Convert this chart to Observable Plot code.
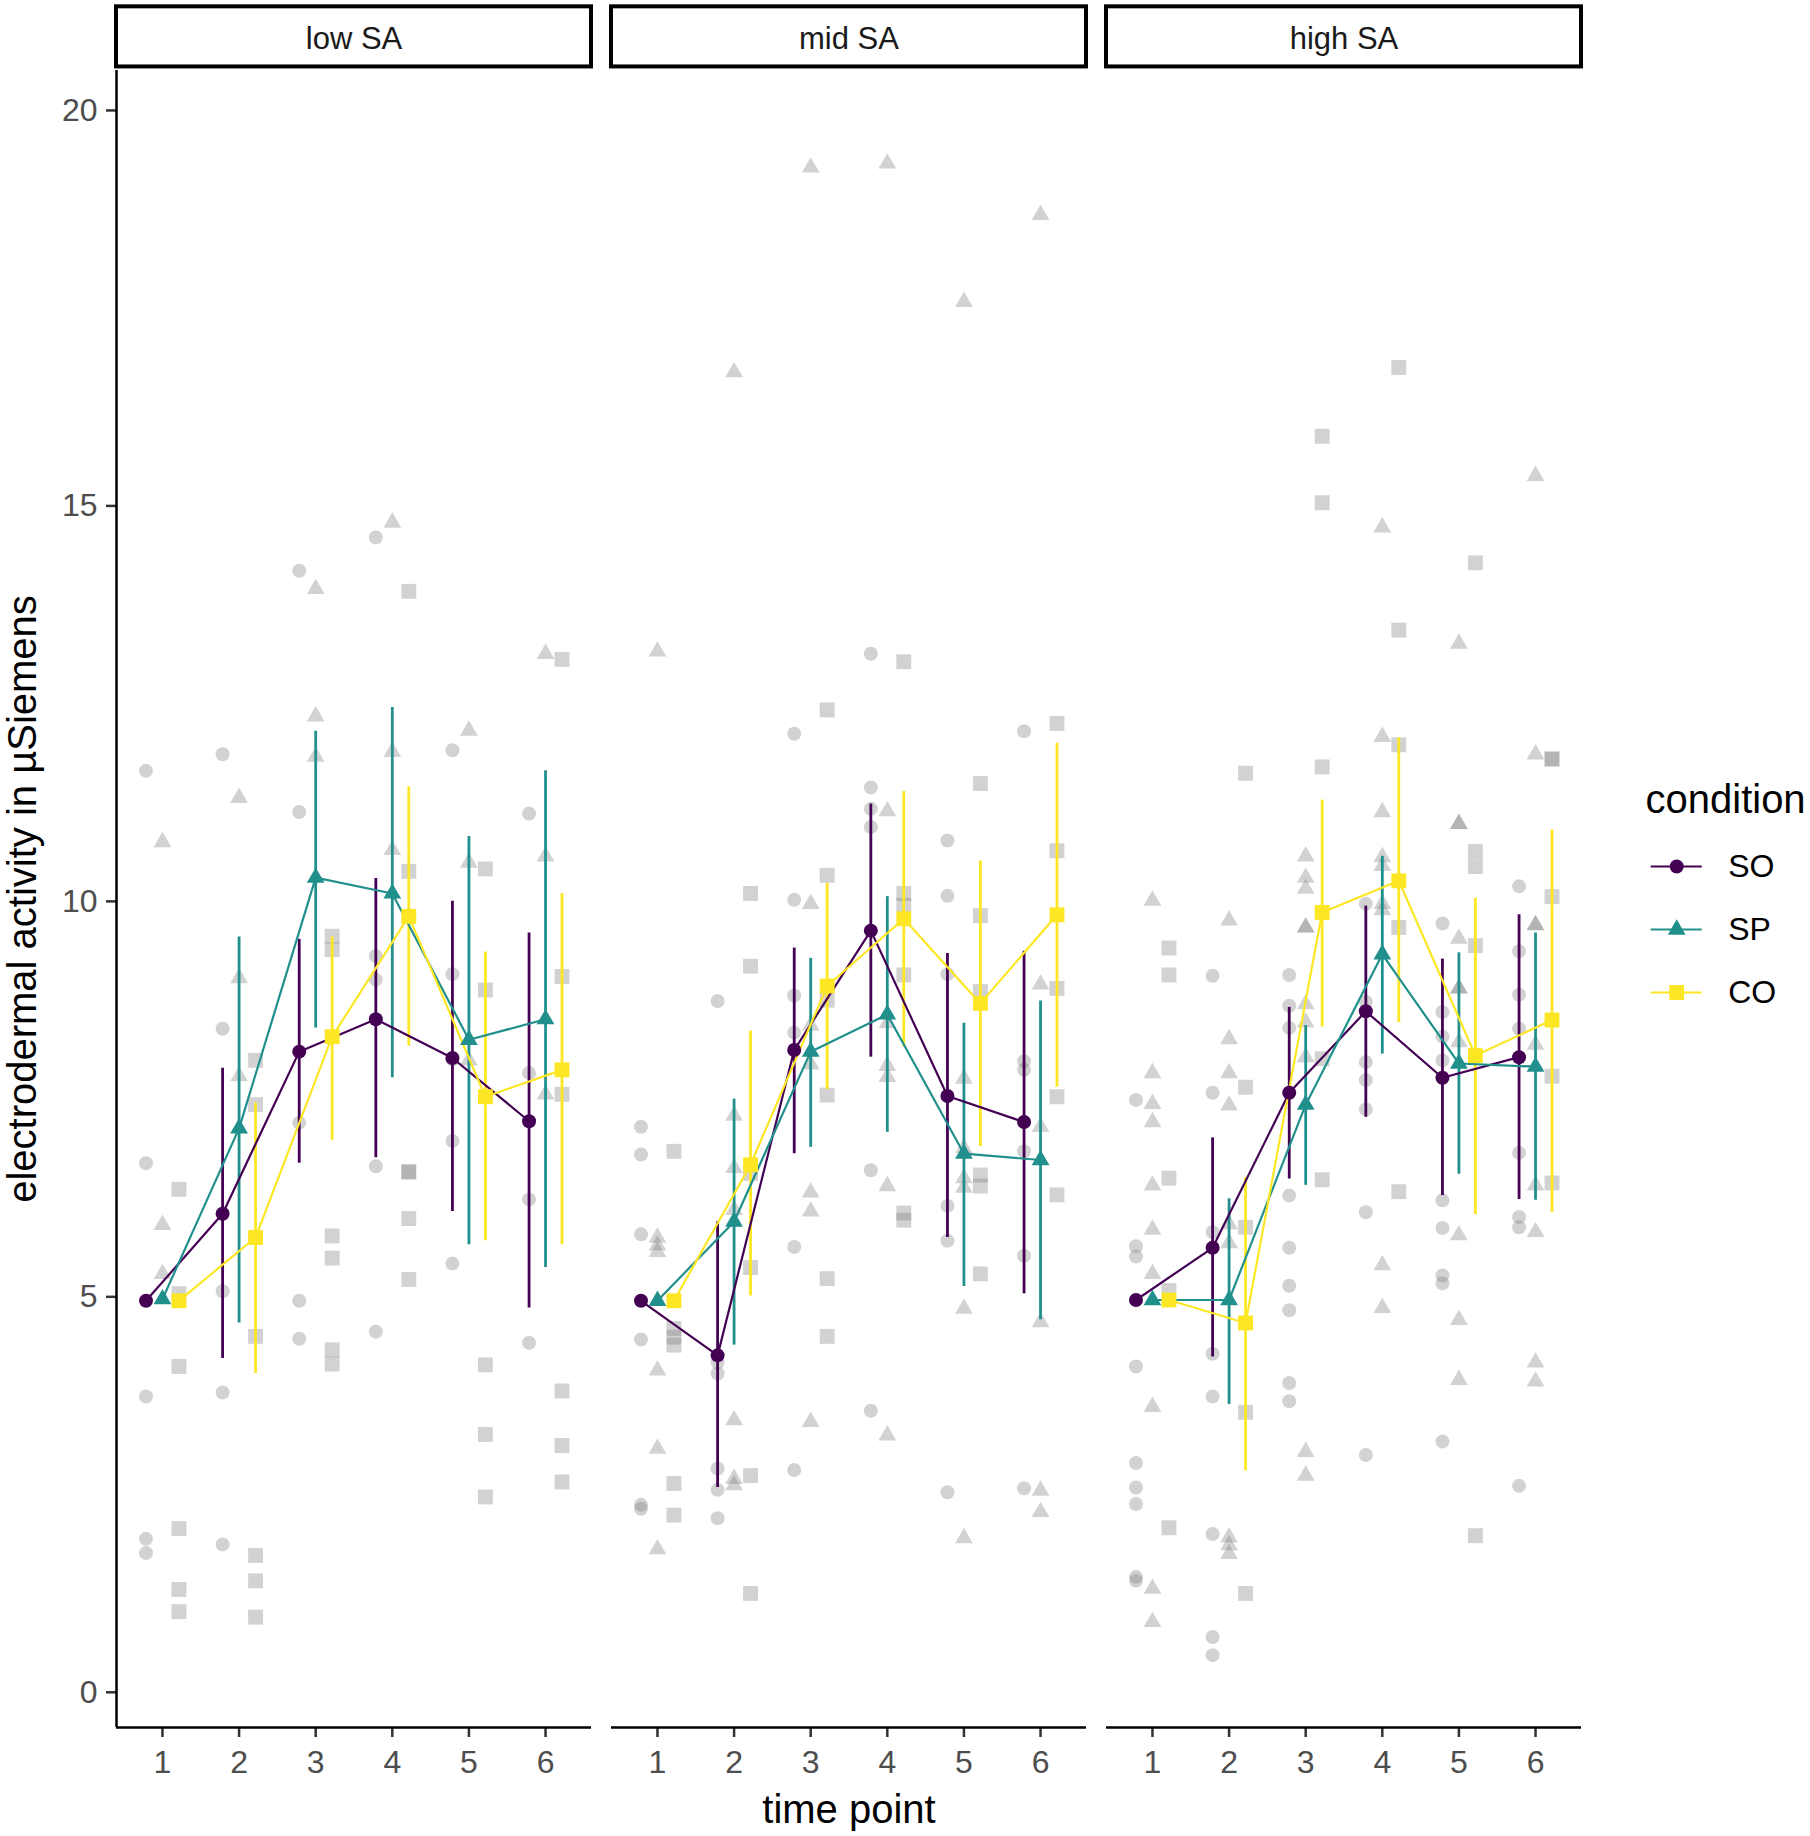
<!DOCTYPE html>
<html><head><meta charset="utf-8">
<script src="https://cdn.jsdelivr.net/npm/d3@7"></script>
<script src="https://cdn.jsdelivr.net/npm/@observablehq/plot@0.6"></script>
<style>
body{margin:0;background:#fff;}
#wrap{position:relative;width:1810px;height:1836px;font-family:"Liberation Sans",Arial,sans-serif;}
#chart{position:absolute;left:0;top:0;}
#legend{position:absolute;left:1640px;top:760px;}
</style></head><body><div id="wrap"><div id="chart"></div><div id="legend"></div></div>
<script>
const panels = ["low SA", "mid SA", "high SA"];
const conditions = ["SO", "SP", "CO"];
const timePoints = [1, 2, 3, 4, 5, 6];
const yTicks = [0, 5, 10, 15, 20];
const condColors = ["#440154", "#21908C", "#FDE725"];
const condSymbols = ["circle", "triangle", "square"];

// summary values per panel (low, mid, high), per time point 1..6
const meanSO = [[4.95, 6.05, 8.10, 8.51, 8.02, 7.22], [4.95, 4.26, 8.12, 9.63, 7.54, 7.21], [4.96, 5.62, 7.58, 8.61, 7.77, 8.03]];
const loSO   = [[null, 4.22, 6.69, 6.76, 6.08, 4.86], [null, 2.59, 6.81, 8.03, 5.75, 5.04], [null, 4.24, 6.49, 7.27, 6.28, 6.23]];
const hiSO   = [[null, 7.89, 9.52, 10.29, 10.00, 9.60], [null, 5.95, 9.41, 11.23, 9.34, 9.37], [null, 7.01, 8.66, 9.94, 9.27, 9.83]];
const meanSP = [[4.97, 7.13, 10.30, 10.10, 8.25, 8.51], [4.95, 5.95, 8.10, 8.57, 6.81, 6.73], [4.96, 4.96, 7.43, 9.33, 7.95, 7.91]];
const loSP   = [[null, 4.67, 8.40, 7.77, 5.66, 5.37], [null, 4.39, 6.89, 7.08, 5.13, 4.71], [null, 3.64, 6.41, 8.07, 6.55, 6.22]];
const hiSP   = [[null, 9.55, 12.15, 12.45, 10.82, 11.65], [null, 7.50, 9.28, 10.06, 8.46, 8.74], [null, 6.24, 8.43, 10.57, 9.35, 9.60]];
const meanCO = [[4.95, 5.75, 8.29, 9.81, 7.53, 7.87], [4.95, 6.67, 8.93, 9.78, 8.71, 9.83], [4.96, 4.67, 9.86, 10.26, 8.05, 8.50]];
const loCO   = [[null, 4.03, 6.98, 8.17, 5.71, 5.66], [null, 5.01, 7.62, 8.16, 6.90, 7.65], [null, 2.80, 8.41, 8.47, 6.04, 6.07]];
const hiCO   = [[null, 7.45, 9.55, 11.45, 9.36, 10.10], [null, 8.36, 10.23, 11.39, 10.51, 12.00], [null, 6.51, 11.28, 12.07, 10.04, 10.90]];

// individual observations (grey), per time point 1..6
const lowSO = [[11.65, 6.69, 3.74, 1.94, 1.76], [11.86, 8.39, 5.07, 3.79, 1.87], [14.18, 11.13, 7.2, 4.95, 4.47], [14.6, 9.31, 9.01, 6.65, 4.56], [11.91, 9.08, 8.0, 6.97, 5.42], [11.11, 7.83, 6.23, 4.42]];
const lowSP = [[10.75, 5.91, 5.29], [11.31, 9.03, 7.79], [13.95, 12.34, 11.83], [14.79, 11.89, 10.65], [12.16, 10.49, 7.99], [13.13, 10.57, 7.56]];
const lowCO = [[6.36, 5.04, 4.12, 2.07, 1.30, 1.02], [7.99, 7.43, 4.50, 1.73, 1.41, 0.95], [9.56, 9.39, 5.77, 5.49, 4.33, 4.15], [13.92, 10.38, 6.58, 6.58, 5.99, 5.22], [10.41, 8.88, 4.14, 3.26, 2.47], [13.06, 9.05, 7.56, 3.81, 3.12, 2.66]];
const midSO = [[7.15, 6.8, 5.79, 4.46, 2.37, 2.32], [8.74, 4.17, 4.03, 2.83, 2.56, 2.2], [12.12, 10.02, 8.81, 8.34, 5.63, 2.81], [13.13, 11.44, 11.17, 10.94, 6.6, 3.56], [10.77, 10.07, 9.08, 6.15, 5.71, 2.53], [12.15, 7.98, 7.87, 6.84, 5.52, 2.58]];
const midSP = [[13.16, 5.75, 5.65, 5.57, 4.07, 3.08, 1.81], [16.69, 7.29, 6.63, 6.1, 3.44, 2.7, 2.62], [19.28, 9.97, 8.43, 7.94, 6.32, 6.08, 3.42], [19.33, 11.14, 8.46, 7.92, 7.78, 6.4, 3.25], [17.58, 7.76, 6.88, 6.5, 6.38, 4.85, 1.95], [18.68, 8.95, 7.15, 4.68, 2.55, 2.28]];
const midCO = [[6.84, 4.6, 4.49, 4.39, 2.64, 2.24], [10.1, 9.18, 6.56, 5.37, 2.74, 1.25], [12.42, 10.33, 8.75, 7.55, 5.23, 4.5], [13.03, 10.1, 9.95, 9.07, 6.06, 5.97], [11.49, 9.82, 8.86, 6.54, 6.4, 5.29], [12.25, 10.64, 8.9, 7.53, 6.29]];
const highSO = [[7.49, 5.64, 5.51, 4.12, 2.9, 2.59, 2.38, 1.46, 1.41], [9.06, 7.58, 5.82, 4.28, 3.74, 2.0, 0.7, 0.47], [9.07, 8.68, 8.4, 6.28, 5.62, 5.14, 4.83, 3.91, 3.68], [9.97, 8.73, 7.97, 7.74, 7.37, 6.07, 3.0], [9.72, 8.6, 8.29, 7.99, 6.22, 5.87, 5.27, 5.17, 3.17], [10.19, 9.37, 8.82, 8.39, 6.82, 6.01, 5.88, 2.61]];
const highSP = [[10.01, 7.83, 7.44, 7.21, 6.41, 5.85, 5.29, 3.61, 1.31, 0.89], [9.76, 8.26, 7.83, 7.42, 5.92, 5.68, 1.96, 1.86, 1.75], [10.57, 10.3, 10.16, 9.67, 9.67, 8.7, 8.47, 8.03, 3.04, 2.74], [14.73, 12.08, 11.13, 10.56, 10.45, 9.97, 9.89, 5.4, 4.86], [13.26, 10.98, 10.98, 9.53, 8.9, 8.9, 8.22, 5.78, 4.71, 3.95], [15.38, 11.86, 9.7, 9.7, 8.19, 6.41, 5.82, 4.17, 3.93]];
const highCO = [[9.41, 9.07, 6.5, 5.08, 2.08], [11.62, 7.65, 5.88, 3.54, 1.25], [15.88, 15.04, 11.7, 8.01, 6.48], [16.75, 13.43, 11.98, 9.67, 6.33], [14.28, 10.63, 10.44, 9.44, 1.98], [11.8, 11.8, 10.06, 7.79, 6.44]];

// ---- assemble tables ----
const rawByPanel = [[lowSO, lowSP, lowCO], [midSO, midSP, midCO], [highSO, highSP, highCO]];
const meanBy = [meanSO, meanSP, meanCO], loBy = [loSO, loSP, loCO], hiBy = [hiSO, hiSP, hiCO];
const dodgeWidth = 0.645;
const dodge = {SO: -dodgeWidth / 3, SP: 0, CO: dodgeWidth / 3};

const points = [];
panels.forEach((sa, pi) => conditions.forEach((cond, ci) => timePoints.forEach((t, ti) => {
  rawByPanel[pi][ci][ti].forEach(v => points.push({sa, cond, t, v}));
})));
const summary = [];
panels.forEach((sa, pi) => conditions.forEach((cond, ci) => timePoints.forEach((t, ti) => {
  summary.push({sa, cond, t, mean: meanBy[ci][pi][ti], lo: loBy[ci][pi][ti], hi: hiBy[ci][pi][ti]});
})));
const xd = d => d.t + dodge[d.cond];

const xDomain = [0.4, 6.6];
const yDomain = [-0.445, 20.505];
const stripBottom = 20.55, stripTop = 21.31, stripMid = 20.90;
const rOf = {circle: 7, triangle: 6.6, square: 8.4};
const font = '"Liberation Sans", Arial, sans-serif';

const greyDots = conditions.map((c, ci) => Plot.dot(points.filter(d => d.cond === c), {
  fx: "sa", x: xd, y: "v", symbol: condSymbols[ci], r: rOf[condSymbols[ci]],
  fill: "#7F7F7F", fillOpacity: 0.35, stroke: "none"
}));
const meanDots = conditions.map((c, ci) => Plot.dot(summary.filter(d => d.cond === c), {
  fx: "sa", x: xd, y: "mean", symbol: condSymbols[ci], r: rOf[condSymbols[ci]],
  fill: condColors[ci], stroke: "none"
}));

const chart = Plot.plot({
  width: 1810, height: 1836,
  marginTop: 70, marginBottom: 109, marginLeft: 116, marginRight: 228,
  style: {fontFamily: font, background: "white", overflow: "visible"},
  fx: {domain: panels, paddingInner: 0.0404, paddingOuter: 0, axis: null, label: null},
  x: {domain: xDomain},
  y: {domain: yDomain},
  color: {domain: conditions, range: condColors},
  marks: [
    Plot.rect(panels, {fx: d => d, x1: xDomain[0], x2: xDomain[1], y1: stripBottom, y2: stripTop, fill: "white", stroke: "black", strokeWidth: 4}),
    Plot.text(panels, {fx: d => d, x: 3.5, y: stripMid, text: d => d, fontSize: 31, fill: "#1A1A1A"}),
    ...greyDots,
    Plot.ruleX(summary.filter(d => d.lo != null), {fx: "sa", x: xd, y1: "lo", y2: "hi", stroke: "cond", strokeWidth: 2.8}),
    Plot.line(summary, {fx: "sa", x: xd, y: "mean", z: "cond", stroke: "cond", strokeWidth: 2.2}),
    ...meanDots,
    Plot.axisY({ticks: yTicks, tickSize: 10, tickPadding: 9, fontSize: 32, stroke: "#333333", strokeWidth: 2.5, fill: "#4D4D4D", label: null}),
    Plot.axisX({ticks: timePoints, tickSize: 10, tickPadding: 13, fontSize: 32, stroke: "#333333", strokeWidth: 2.5, fill: "#4D4D4D", label: null, tickFormat: d => String(d)}),
    Plot.ruleX([panels[0]], {fx: d => d, x: xDomain[0], stroke: "black", strokeWidth: 2.5}),
    Plot.ruleY(panels, {fx: d => d, y: yDomain[0], stroke: "black", strokeWidth: 2.5}),
    Plot.text([panels[0]], {fx: d => d, frameAnchor: "left", dx: -93, rotate: -90, textAnchor: "middle", lineAnchor: "middle", text: () => "electrodermal activity in µSiemens", fontSize: 40, fill: "black"}),
    Plot.text([panels[1]], {fx: d => d, frameAnchor: "bottom", dy: 83, textAnchor: "middle", lineAnchor: "middle", text: () => "time point", fontSize: 40, fill: "black"})
  ]
});
document.getElementById("chart").appendChild(chart);

const legend = Plot.plot({
  width: 170, height: 260, margin: 0,
  style: {fontFamily: font, background: "transparent", overflow: "visible"},
  x: {domain: [0, 1], range: [10.7, 61.7], axis: null},
  y: {type: "point", padding: 0, domain: conditions, range: [105.7, 233], axis: null},
  color: {domain: conditions, range: condColors},
  marks: [
    Plot.ruleY(conditions, {y: d => d, x1: 0, x2: 1, stroke: d => d, strokeWidth: 2.2}),
    ...conditions.map((c, ci) => Plot.dot([c], {x: 0.5, y: d => d, symbol: condSymbols[ci], r: rOf[condSymbols[ci]], fill: condColors[ci], stroke: "none"})),
    Plot.text(conditions, {x: 1, y: d => d, dx: 26, text: d => d, textAnchor: "start", lineAnchor: "middle", fontSize: 32, fill: "black"}),
    Plot.text(["condition"], {frameAnchor: "top-left", dx: 5, dy: 40, text: d => d, textAnchor: "start", lineAnchor: "middle", fontSize: 40, fill: "black"})
  ]
});
document.getElementById("legend").appendChild(legend);
</script></body></html>
